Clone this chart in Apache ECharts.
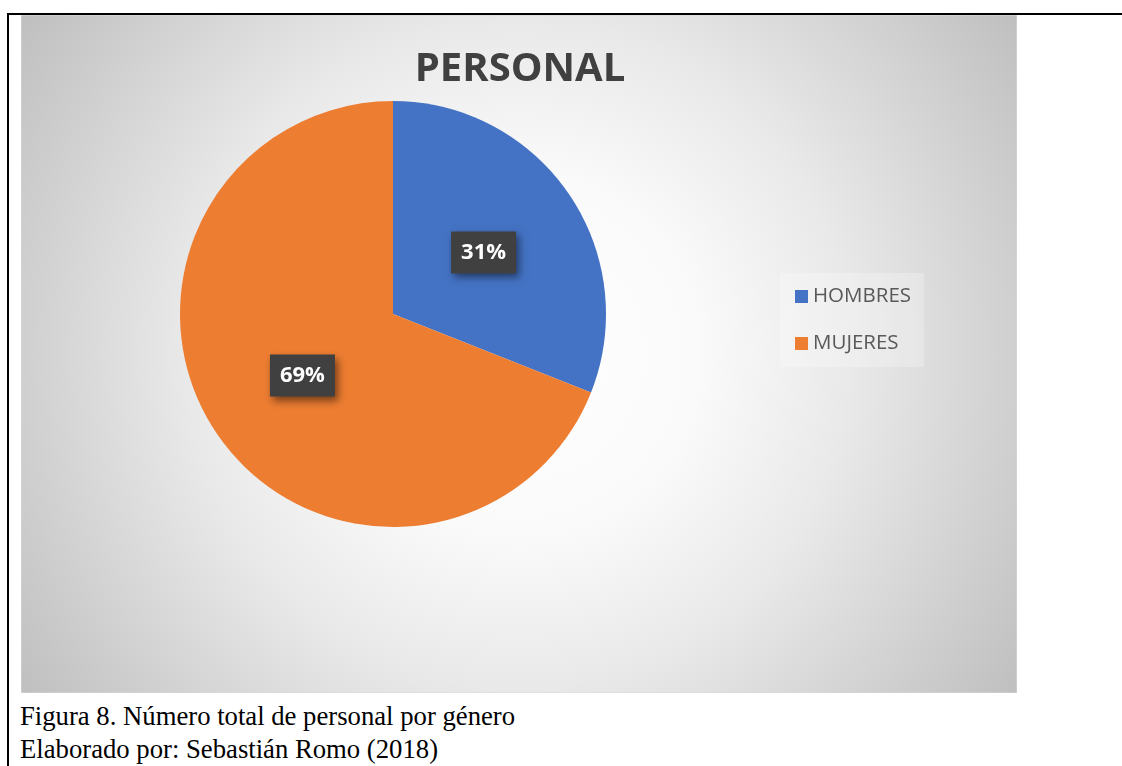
<!DOCTYPE html>
<html>
<head>
<meta charset="utf-8">
<script src="https://cdn.jsdelivr.net/npm/echarts@6/dist/echarts.min.js"></script>
<style>
  html, body { margin: 0; padding: 0; background: #fff; width: 1122px; height: 766px; overflow: hidden; }
  #frameTop { position: absolute; left: 7px; top: 13px; width: 1115px; height: 2px; background: #000; }
  #frameLeft { position: absolute; left: 7px; top: 13px; width: 2px; height: 753px; background: #000; }
  #chart { position: absolute; left: 21px; top: 15px; width: 996px; height: 678px; }
  #caption { position: absolute; left: 20px; top: 700px; font-family: "Liberation Serif", "Times New Roman", serif; font-size: 26.7px; line-height: 33px; color: #000; white-space: nowrap; }
</style>
</head>
<body>
<div id="frameTop"></div>
<div id="frameLeft"></div>
<div id="chart"></div>
<div id="caption">Figura 8. Número total de personal por género<br>Elaborado por: Sebastián Romo (2018)</div>
<script>
const titleText = 'PERSONAL';
const categories = ['HOMBRES', 'MUJERES'];
const values = [31, 69];
const colors = ['#4472C4', '#ED7D31'];

const chart = echarts.init(document.getElementById('chart'), null, { renderer: 'canvas' });
chart.setOption({
  animation: false,
  graphic: [{
    type: 'rect',
    z: -10,
    silent: true,
    shape: { x: 0, y: 0, width: 996, height: 678 },
    style: {
      fill: {
        type: 'radial', x: 0.5, y: 0.5, r: 0.888, global: false,
        colorStops: [
          { offset: 0, color: '#ffffff' },
          { offset: 0.3, color: '#fafafa' },
          { offset: 0.55, color: '#e9e9e9' },
          { offset: 1, color: '#bfbfbf' }
        ]
      },
      stroke: '#d9d9d9',
      lineWidth: 1
    }
  }],
  title: {
    text: titleText,
    left: 494,
    top: 30,
    textAlign: 'center',
    textStyle: { fontFamily: 'Open Sans', fontWeight: 'bold', fontSize: 40, color: '#404040' }
  },
  legend: {
    orient: 'vertical',
    left: 759,
    top: 258,
    padding: [13, 13, 13, 15],
    backgroundColor: 'rgba(255,255,255,0.25)',
    itemWidth: 13,
    itemHeight: 13,
    itemGap: 26,
    icon: 'rect',
    data: categories,
    textStyle: { fontFamily: 'Open Sans', fontSize: 20.5, lineHeight: 20, color: '#595959' }
  },
  series: [{
    type: 'pie',
    center: [372, 299],
    radius: [0, 213],
    startAngle: 90,
    clockwise: true,
    label: {
      show: true,
      position: 'inside',
      formatter: '{c}%',
      fontFamily: 'Open Sans',
      fontWeight: 'bold',
      fontSize: 22,
      lineHeight: 26,
      color: '#ffffff',
      backgroundColor: '#404040',
      padding: [8, 10],
      shadowColor: 'rgba(0,0,0,0.5)',
      shadowBlur: 8,
      shadowOffsetX: 3,
      shadowOffsetY: 4
    },
    labelLine: { show: false },
    emphasis: { disabled: true },
    data: categories.map((c, i) => ({ name: c, value: values[i], itemStyle: { color: colors[i] } }))
  }]
});
</script>
</body>
</html>
